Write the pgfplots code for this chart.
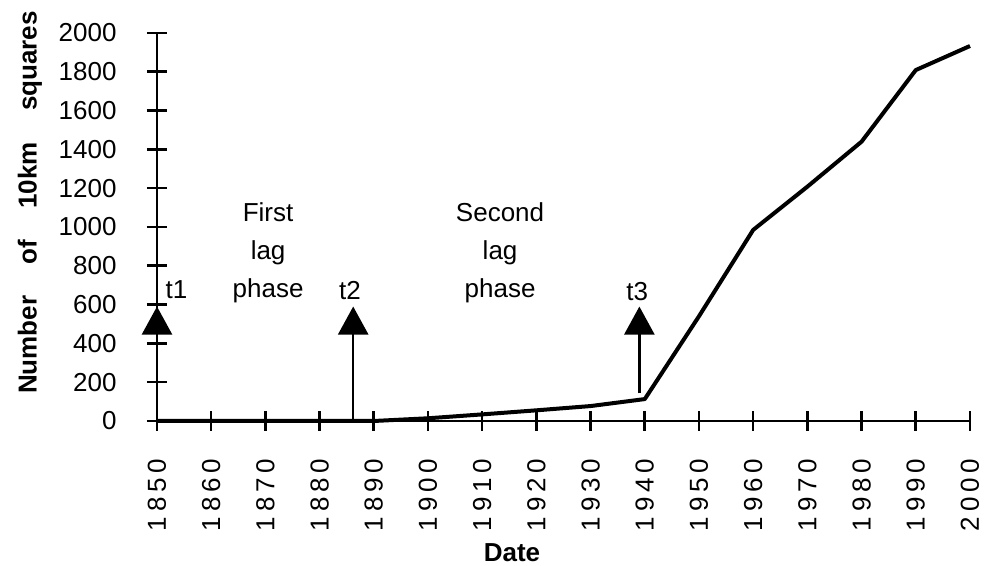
\documentclass[border=0pt]{standalone}
\usepackage{pgfplots}
\pgfplotsset{compat=1.18}
\usepackage{fontspec}
\setmainfont{Liberation Sans}
\usetikzlibrary{arrows.meta}
\begin{document}
\begin{tikzpicture}[font=\fontsize{13}{15}\selectfont]
\path[use as bounding box] (-78.5pt,-72.5pt) rectangle (415pt,210.5pt);
\begin{axis}[
 at={(0,0)}, anchor=south west, scale only axis,
 width=406.5pt, height=194pt,
 xmin=1850, xmax=2000, ymin=0, ymax=2000,
 axis lines=left, axis line style={line width=1.3pt,-},
 xtick={1850,1860,...,2000}, ytick={0,200,...,2000},
 tick align=center, major tick length=10pt, tick style={line width=1.3pt, black},
 /pgf/number format/assume math mode=true,
 /pgf/number format/1000 sep={},
 yticklabel style={font=\fontsize{13}{15}\selectfont, anchor=east, xshift=-11.7pt},
 xticklabel style={rotate=90, anchor=east, font=\fontsize{13}{15}\selectfont\addfontfeature{LetterSpace=19}},
 xticklabel shift=10.3pt,
 xlabel={Date},
 xlabel style={at={(axis description cs:0.4367,-0.340)}, anchor=center, font=\fontsize{13}{15}\selectfont\bfseries},
 ylabel={Number\hspace{12pt} of\hspace{12pt} 10km\hspace{12pt} squares},
 ylabel style={at={(axis description cs:-0.1562,0.563)}, anchor=center, rotate=0, font=\fontsize{13}{15}\selectfont\bfseries},
 clip=false,
]
\addplot[line width=2pt, black, line join=round, mark=none] coordinates {
 (1850,0) (1860,0) (1870,0) (1880,0) (1890,0) (1900,14) (1910,34) (1920,55)
 (1930,77) (1940,113) (1950,540) (1960,985) (1970,1208) (1980,1440) (1990,1809) (2000,1933)
};
\draw[line width=1.2pt, -{Triangle[width=15pt,length=14pt]}] (axis cs:1850,0) -- (axis cs:1850,590);
\draw[line width=1.2pt, -{Triangle[width=15pt,length=14pt]}] (axis cs:1886.2,0) -- (axis cs:1886.2,590);
\draw[line width=1.2pt, -{Triangle[width=15pt,length=14pt]}] (axis cs:1939,143) -- (axis cs:1939,590);
\node[anchor=west, inner sep=0pt] at (axis cs:1851.5,675) {t1};
\node at (axis cs:1885.6,675) {t2};
\node at (axis cs:1938.6,665) {t3};
\node[align=center, font=\fontsize{13}{19}\selectfont] at (axis cs:1870.5,866) {First\\lag\\phase};
\node[align=center, font=\fontsize{13}{19}\selectfont] at (axis cs:1913.3,866) {Second\\lag\\phase};
\end{axis}
\end{tikzpicture}
\end{document}
